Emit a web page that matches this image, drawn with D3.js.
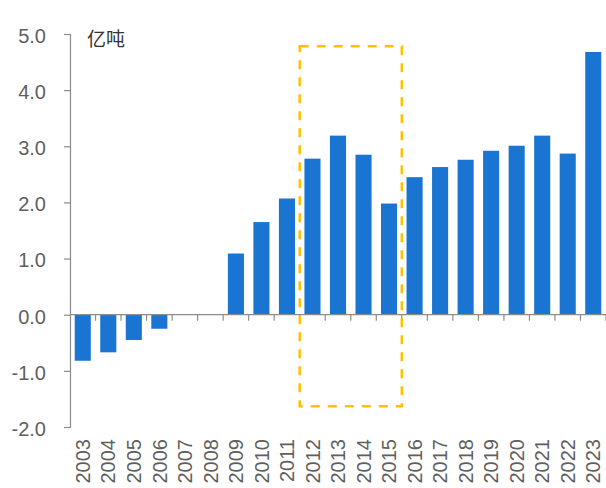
<!DOCTYPE html>
<html>
<head>
<meta charset="utf-8">
<script src="https://cdn.jsdelivr.net/npm/d3@7"></script>
<style>
  html, body { margin: 0; padding: 0; background: #fff; }
  svg { display: block; }
</style>
</head>
<body>
<svg id="chart" width="606" height="488"></svg>
<script>
// Annual net change, 2003–2023 (亿吨)
const years = ["2003","2004","2005","2006","2007","2008","2009","2010","2011","2012","2013",
               "2014","2015","2016","2017","2018","2019","2020","2021","2022","2023"];
const values = [-0.82,-0.67,-0.45,-0.25,0,0,1.09,1.65,2.07,2.78,3.19,
                2.85,1.98,2.45,2.63,2.76,2.92,3.01,3.19,2.87,4.68];
const yTicks = [-2,-1,0,1,2,3,4,5];
const unitLabel = "亿吨";
// Highlighted period and the vertical extent of its frame
const highlightYears = ["2012","2015"];
const highlightRange = [-1.63, 4.78];

const svg = d3.select("#chart");
const plotLeft = 70, plotRight = 606, plotTop = 34, plotBottom = 427;

const x = d3.scaleBand().domain(years).range([plotLeft, plotRight]).padding(0);
const xBar = d3.scaleBand().domain(years).range([plotLeft, plotRight])
  .paddingInner(0.37).paddingOuter(0.185);
const y = d3.scaleLinear().domain([-2, 5]).range([plotBottom, plotTop]);

const axisColor = "#8c8c8c";
const textColor = "#5f5f5f";

// Bars
svg.append("g").selectAll("rect")
  .data(years.map((yr, i) => ({ yr, v: values[i] })))
  .join("rect")
  .attr("x", d => xBar(d.yr))
  .attr("width", xBar.bandwidth())
  .attr("y", d => y(Math.max(0, d.v)))
  .attr("height", d => Math.abs(y(d.v) - y(0)))
  .attr("fill", "#1a75d2");

// Y axis (plain hyphen for negatives)
const yAxis = svg.append("g")
  .attr("transform", `translate(${plotLeft},0)`)
  .call(d3.axisLeft(y).tickValues(yTicks).tickFormat(d => d.toFixed(1)).tickSize(6).tickPadding(18));
yAxis.select(".domain").attr("stroke", axisColor).attr("stroke-width", 1.2);
yAxis.selectAll(".tick line").attr("stroke", axisColor).attr("stroke-width", 1.2);
yAxis.selectAll(".tick text")
  .attr("fill", textColor)
  .attr("font-family", "Liberation Sans, Arial, sans-serif")
  .attr("font-size", 20)
  .attr("dy", "0.42em");

// X axis along zero, ticks between categories
const zeroY = y(0);
const boundaries = d3.range(1, years.length + 1).map(i => plotLeft + x.step() * i);
svg.append("line")
  .attr("x1", plotLeft).attr("x2", plotRight)
  .attr("y1", zeroY).attr("y2", zeroY)
  .attr("stroke", axisColor).attr("stroke-width", 1.2);
svg.append("g").selectAll("line")
  .data(boundaries)
  .join("line")
  .attr("x1", d => d).attr("x2", d => d)
  .attr("y1", zeroY).attr("y2", zeroY + 6)
  .attr("stroke", axisColor).attr("stroke-width", 1.2);

// Year labels, rotated
svg.append("g").selectAll("text")
  .data(years)
  .join("text")
  .attr("transform", d => `translate(${x(d) + x.bandwidth() / 2},439) rotate(-90)`)
  .attr("text-anchor", "end")
  .attr("dy", "0.36em")
  .attr("fill", textColor)
  .attr("font-family", "Liberation Sans, Arial, sans-serif")
  .attr("font-size", 20)
  .text(d => d);

// Unit label
svg.append("text")
  .attr("x", 87).attr("y", 46)
  .attr("fill", "#333")
  .attr("font-family", "Noto Sans CJK SC, sans-serif")
  .attr("font-size", 19)
  .text(unitLabel);

// Dashed frame around the highlighted period
const hx0 = x(highlightYears[0]);
const hx1 = x(highlightYears[1]) + x.step();
svg.append("rect")
  .attr("x", hx0)
  .attr("y", y(highlightRange[1]))
  .attr("width", hx1 - hx0)
  .attr("height", y(highlightRange[0]) - y(highlightRange[1]))
  .attr("fill", "none")
  .attr("stroke", "#ffc000")
  .attr("stroke-width", 2.5)
  .attr("stroke-dasharray", "9,8");
</script>
</body>
</html>
